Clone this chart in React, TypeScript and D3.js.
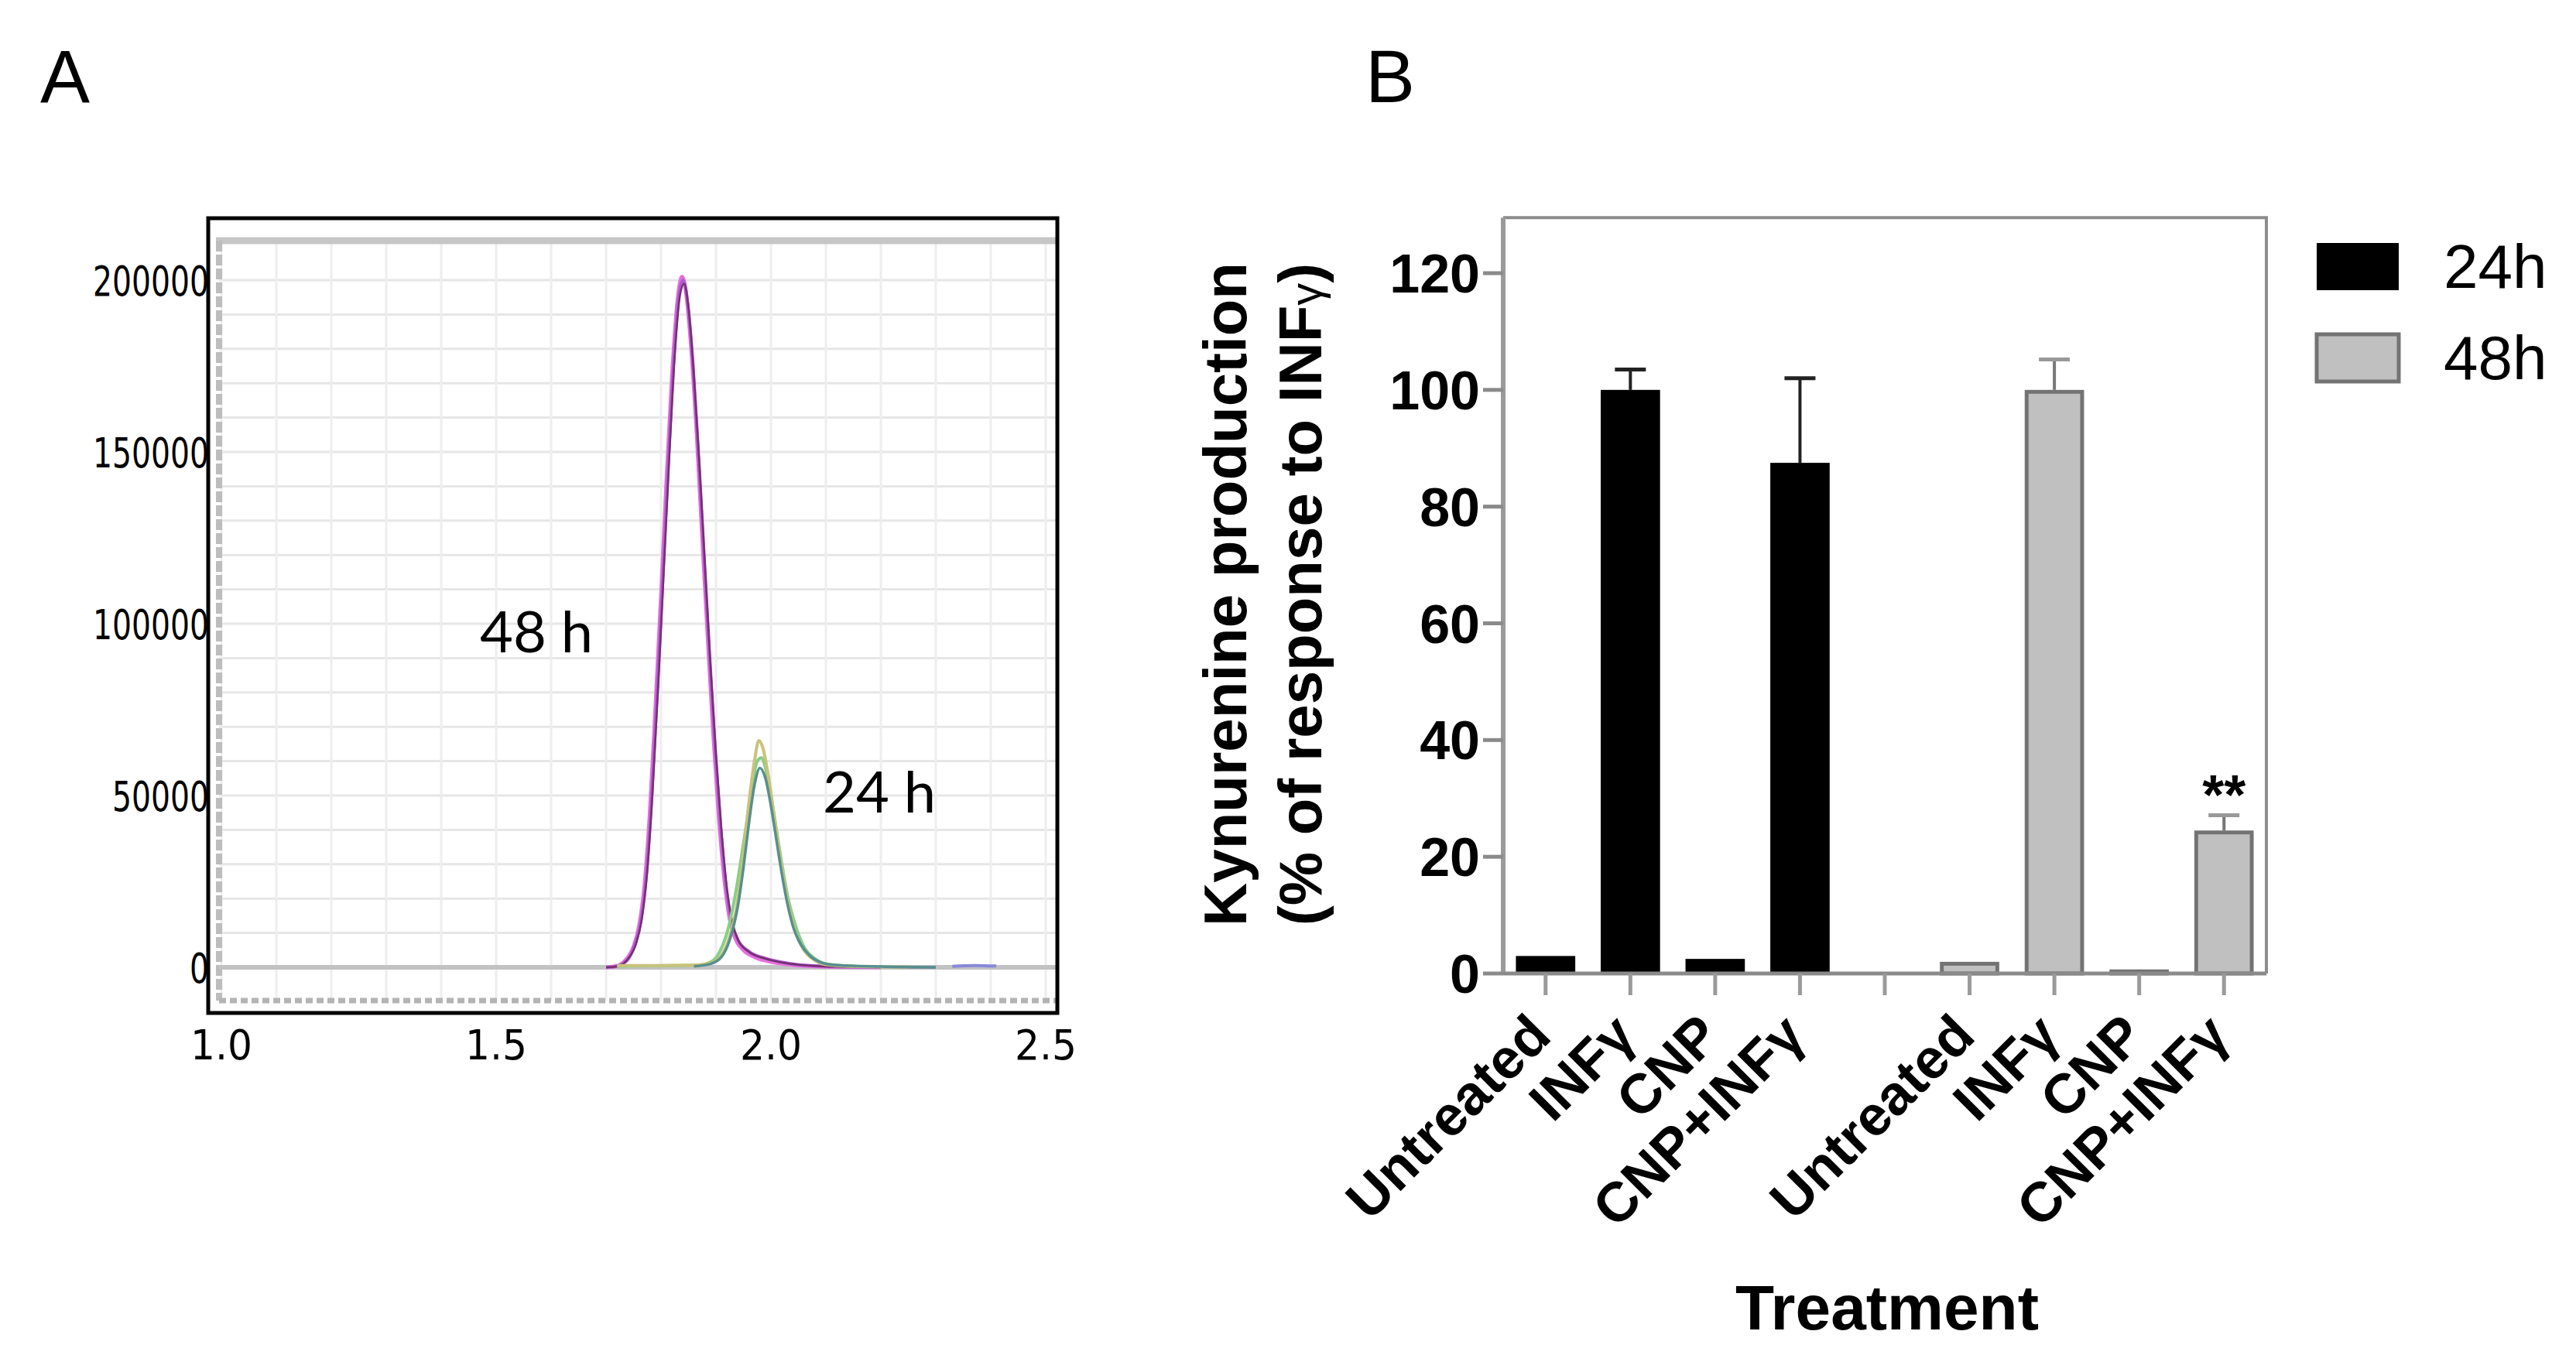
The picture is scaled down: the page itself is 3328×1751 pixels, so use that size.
import React, { useEffect, useRef } from "react";
import * as d3 from "d3";

// ---- panel A : chromatogram traces (retention time, intensity) ----
const trace48Pink: [number, number][] = [
  [1.7, 0], [1.72, 400], [1.735, 2000], [1.75, 6000], [1.76, 12000], [1.77, 24000],
  [1.78, 46000], [1.79, 76000], [1.8, 108000], [1.81, 142000], [1.82, 172000],
  [1.83, 194000], [1.838, 201000], [1.845, 197000], [1.855, 180000], [1.865, 155000],
  [1.875, 125000], [1.885, 96000], [1.895, 68000], [1.905, 44000], [1.915, 26000],
  [1.925, 14000], [1.935, 8500], [1.95, 5000], [1.97, 3000], [2.0, 1600], [2.04, 700],
  [2.08, 300], [2.12, 100], [2.2, 0],
];
const trace48Violet: [number, number][] = [
  [1.7, 0], [1.72, 350], [1.74, 2300], [1.752, 6500], [1.763, 13000], [1.773, 26000],
  [1.783, 49000], [1.793, 80000], [1.803, 112000], [1.813, 146000], [1.823, 176000],
  [1.833, 196000], [1.84, 200000], [1.848, 194000], [1.858, 176000], [1.868, 150000],
  [1.878, 121000], [1.888, 92000], [1.898, 65000], [1.908, 42000], [1.918, 24000],
  [1.928, 13500], [1.94, 8000], [1.96, 4600], [1.99, 2600], [2.03, 1200], [2.07, 500],
  [2.12, 200], [2.2, 0],
];
const trace48Dark: [number, number][] = [
  [1.7, 0], [1.72, 300], [1.74, 2500], [1.755, 7000], [1.765, 14000], [1.775, 28000],
  [1.785, 52000], [1.795, 82000], [1.805, 115000], [1.815, 148000], [1.825, 178000],
  [1.835, 196000], [1.842, 199000], [1.85, 192000], [1.86, 172000], [1.87, 146000],
  [1.88, 117000], [1.89, 88000], [1.9, 62000], [1.91, 40000], [1.92, 23000],
  [1.93, 13000], [1.94, 8000], [1.96, 4500], [1.99, 2500], [2.02, 1400], [2.06, 600],
  [2.1, 250], [2.2, 80], [2.3, 0],
];
const trace24Olive: [number, number][] = [
  [1.72, 500], [1.8, 500], [1.86, 600], [1.89, 1200], [1.91, 3500], [1.925, 9000],
  [1.94, 20000], [1.95, 33000], [1.96, 48000], [1.97, 60000], [1.978, 66000],
  [1.985, 64000], [1.995, 56000], [2.005, 45000], [2.015, 34000], [2.025, 24000],
  [2.035, 16000], [2.045, 10000], [2.06, 5000], [2.08, 2000], [2.1, 800], [2.15, 300],
  [2.25, 100],
];
const trace24Green: [number, number][] = [
  [1.72, 300], [1.76, 400], [1.82, 500], [1.87, 700], [1.89, 1500], [1.905, 4000],
  [1.92, 10000], [1.935, 21000], [1.95, 36000], [1.965, 52000], [1.975, 60000],
  [1.983, 61000], [1.99, 58000], [2.0, 50000], [2.01, 40000], [2.02, 30000],
  [2.03, 21000], [2.045, 12000], [2.06, 6000], [2.08, 2500], [2.1, 1000], [2.15, 300],
];
const trace24Teal: [number, number][] = [
  [1.86, 300], [1.89, 1000], [1.91, 3000], [1.925, 8000], [1.94, 18000], [1.95, 29000],
  [1.96, 42000], [1.97, 53000], [1.98, 58000], [1.99, 55000], [2.0, 47000], [2.01, 37000],
  [2.02, 27000], [2.03, 18500], [2.04, 12000], [2.055, 6500], [2.07, 3500], [2.09, 1500],
  [2.12, 600], [2.2, 200], [2.3, 0],
];
const traceBlue: [number, number][] = [
  [2.33, 300], [2.37, 500], [2.41, 400],
];

// drawn in this order (last one on top)
const tracesA = [
  { name: "48h-pink", data: trace48Pink, color: "#e470dc", width: 5 },
  { name: "48h-violet", data: trace48Violet, color: "#b05ad4", width: 4 },
  { name: "48h-dark", data: trace48Dark, color: "#74306f", width: 2.5 },
  { name: "24h-green", data: trace24Green, color: "#86d086", width: 4 },
  { name: "24h-olive", data: trace24Olive, color: "#c9c27a", width: 4 },
  { name: "24h-teal", data: trace24Teal, color: "#578f8f", width: 3.5 },
  { name: "blue", data: traceBlue, color: "#8888d8", width: 4 },
];

// ---- panel B : kynurenine production bars ----
const treatments = ["Untreated", "INFγ", "CNP", "CNP+INFγ"];
const mean24h = [3, 100, 2.5, 87.5];
const err24h = [0, 3.5, 0, 14.5];
const mean48h = [2, 100, 0.7, 24.5];
const err48h = [0, 5.2, 0, 2.6];
const yTicksB = [0, 20, 40, 60, 80, 100, 120];

const W = 3328;
const H = 1751;
const ARIAL = "'Liberation Sans', Arial, sans-serif";

const App = () => {
  const ref = useRef<SVGSVGElement>(null);

  useEffect(() => {
    const svg = d3.select(ref.current);
    svg.selectAll("*").remove();
    drawPanelA(svg);
    drawPanelB(svg);
  }, []);

  function drawPanelA(svg: any) {
    const g = svg.append("g");
    const x = d3.scaleLinear().domain([1.0, 2.5]).range([286, 1351]);
    const y = d3.scaleLinear().domain([0, 200000]).range([1250, 362]);
    const plot = { left: 283, right: 1366, top: 311, bottom: 1293 };

    g.append("text")
      .text("A")
      .attr("x", 52)
      .attr("y", 132)
      .attr("font-family", ARIAL)
      .attr("font-size", 96);

    // grid
    g.append("g")
      .selectAll("line")
      .data(y.ticks(20))
      .join("line")
      .attr("x1", plot.left)
      .attr("x2", plot.right)
      .attr("y1", (d: number) => y(d))
      .attr("y2", (d: number) => y(d))
      .attr("stroke", "#e6e6e6")
      .attr("stroke-width", 3);
    g.append("g")
      .selectAll("line")
      .data(x.ticks(15))
      .join("line")
      .attr("x1", (d: number) => x(d))
      .attr("x2", (d: number) => x(d))
      .attr("y1", plot.top)
      .attr("y2", plot.bottom)
      .attr("stroke", "#eeeeee")
      .attr("stroke-width", 3);

    // grey plot borders of the instrument software
    g.append("line")
      .attr("x1", plot.left - 4).attr("x2", plot.right)
      .attr("y1", plot.top).attr("y2", plot.top)
      .attr("stroke", "#c6c6c6").attr("stroke-width", 9);
    g.append("line")
      .attr("x1", plot.left).attr("x2", plot.left)
      .attr("y1", plot.top).attr("y2", plot.bottom)
      .attr("stroke", "#bdbdbd").attr("stroke-width", 8)
      .attr("stroke-dasharray", "14 4");
    g.append("line")
      .attr("x1", plot.left).attr("x2", plot.right)
      .attr("y1", plot.bottom).attr("y2", plot.bottom)
      .attr("stroke", "#b4b4b4").attr("stroke-width", 7)
      .attr("stroke-dasharray", "9 5");
    g.append("line")
      .attr("x1", plot.left).attr("x2", plot.right)
      .attr("y1", y(0)).attr("y2", y(0))
      .attr("stroke", "#c2c2c2").attr("stroke-width", 6);

    // traces
    const line = d3
      .line<[number, number]>()
      .x((d) => x(d[0]))
      .y((d) => y(d[1]))
      .curve(d3.curveMonotoneX);
    g.append("g")
      .selectAll("path")
      .data(tracesA)
      .join("path")
      .attr("d", (d: any) => line(d.data))
      .attr("fill", "none")
      .attr("stroke", (d: any) => d.color)
      .attr("stroke-width", (d: any) => d.width)
      .attr("stroke-linejoin", "round");

    // frame
    g.append("rect")
      .attr("x", 269)
      .attr("y", 282)
      .attr("width", 1097)
      .attr("height", 1027)
      .attr("fill", "none")
      .attr("stroke", "#000")
      .attr("stroke-width", 5);

    // tick labels
    g.append("g")
      .selectAll("text")
      .data(y.ticks(5))
      .join("text")
      .text((d: number) => String(d))
      .attr("x", 270)
      .attr("y", (d: number) => y(d) + 20)
      .attr("text-anchor", "end")
      .attr("font-family", "'DejaVu Sans', sans-serif")
      .attr("font-size", 54)
      .attr("textLength", (d: number) => String(d).length * 25)
      .attr("lengthAdjust", "spacingAndGlyphs");
    g.append("g")
      .selectAll("text")
      .data(x.ticks(3))
      .join("text")
      .text((d: number) => d3.format(".1f")(d))
      .attr("x", (d: number) => x(d))
      .attr("y", 1369)
      .attr("text-anchor", "middle")
      .attr("font-family", "'DejaVu Sans', sans-serif")
      .attr("font-size", 54)
      .attr("textLength", 80)
      .attr("lengthAdjust", "spacingAndGlyphs");

    // peak annotations
    g.append("text")
      .text("48 h")
      .attr("x", 620)
      .attr("y", 843)
      .attr("font-family", "Lato, 'Open Sans', sans-serif")
      .attr("font-size", 74);
    g.append("text")
      .text("24 h")
      .attr("x", 1063)
      .attr("y", 1050)
      .attr("font-family", "Lato, 'Open Sans', sans-serif")
      .attr("font-size", 74);
  }

  function drawPanelB(svg: any) {
    const g = svg.append("g").attr("font-family", ARIAL);
    const left = 1942;
    const right = 2928;
    const slots = [
      ...treatments.map((t, i) => ({ key: "24-" + i, label: t, mean: mean24h[i], err: err24h[i], group: "24h" })),
      { key: "gap", label: "", mean: null, err: 0, group: "" },
      ...treatments.map((t, i) => ({ key: "48-" + i, label: t, mean: mean48h[i], err: err48h[i], group: "48h" })),
    ];
    const x = d3
      .scaleBand()
      .domain(slots.map((d) => d.key))
      .range([left, right])
      .paddingInner(0.3)
      .paddingOuter(0.15);
    const y = d3.scaleLinear().domain([0, 120]).range([1258, 353]);
    const cx = (k: string) => (x(k) as number) + x.bandwidth() / 2;

    g.append("text")
      .text("B")
      .attr("x", 1764)
      .attr("y", 132)
      .attr("font-size", 96);

    // frame (top, right)
    g.append("path")
      .attr("d", `M${left},${y(129.5)}H${right}V${y(0)}`)
      .attr("fill", "none")
      .attr("stroke", "#8c8c8c")
      .attr("stroke-width", 4);

    // bars
    const bars = slots.filter((d) => d.mean !== null);
    g.append("g")
      .selectAll("rect")
      .data(bars)
      .join("rect")
      .attr("x", (d: any) => (x(d.key) as number) + (d.group === "48h" ? 2.5 : 0))
      .attr("width", (d: any) => x.bandwidth() - (d.group === "48h" ? 5 : 0))
      .attr("y", (d: any) => y(d.mean) + (d.group === "48h" ? 2.5 : 0))
      .attr("height", (d: any) => Math.max(0, y(0) - y(d.mean) - (d.group === "48h" ? 2.5 : 0)))
      .attr("fill", (d: any) => (d.group === "24h" ? "#000" : "#c0c0c0"))
      .attr("stroke", (d: any) => (d.group === "24h" ? "none" : "#737373"))
      .attr("stroke-width", 5);

    // error bars
    const errs = bars.filter((d) => d.err > 0);
    const eg = g.append("g");
    eg.selectAll("line.stem")
      .data(errs)
      .join("line")
      .attr("class", "stem")
      .attr("x1", (d: any) => cx(d.key))
      .attr("x2", (d: any) => cx(d.key))
      .attr("y1", (d: any) => y(d.mean))
      .attr("y2", (d: any) => y(d.mean + d.err))
      .attr("stroke", (d: any) => (d.group === "24h" ? "#222" : "#777"))
      .attr("stroke-width", 4);
    eg.selectAll("line.cap")
      .data(errs)
      .join("line")
      .attr("class", "cap")
      .attr("x1", (d: any) => cx(d.key) - 20)
      .attr("x2", (d: any) => cx(d.key) + 20)
      .attr("y1", (d: any) => y(d.mean + d.err))
      .attr("y2", (d: any) => y(d.mean + d.err))
      .attr("stroke", (d: any) => (d.group === "24h" ? "#222" : "#999"))
      .attr("stroke-width", 5);

    // significance
    const last = bars[bars.length - 1];
    g.append("text")
      .text("**")
      .attr("x", cx(last.key))
      .attr("y", y(last.mean + last.err) - 2)
      .attr("text-anchor", "middle")
      .attr("font-weight", "bold")
      .attr("font-size", 72);

    // y axis
    g.append("line")
      .attr("x1", left).attr("x2", left)
      .attr("y1", y(129.5)).attr("y2", y(0))
      .attr("stroke", "#9a9a9a").attr("stroke-width", 6);
    const yt = g.append("g").selectAll("g").data(yTicksB).join("g");
    yt.append("line")
      .attr("x1", left - 26).attr("x2", left)
      .attr("y1", (d: number) => y(d)).attr("y2", (d: number) => y(d))
      .attr("stroke", "#8a8a8a").attr("stroke-width", 5);
    yt.append("text")
      .text((d: number) => d)
      .attr("x", 1912)
      .attr("y", (d: number) => y(d) + 25)
      .attr("text-anchor", "end")
      .attr("font-weight", "bold")
      .attr("font-size", 70);

    // x axis
    g.append("line")
      .attr("x1", left).attr("x2", right)
      .attr("y1", y(0)).attr("y2", y(0))
      .attr("stroke", "#8a8a8a").attr("stroke-width", 5);
    g.append("g")
      .selectAll("line")
      .data(slots)
      .join("line")
      .attr("x1", (d: any) => cx(d.key))
      .attr("x2", (d: any) => cx(d.key))
      .attr("y1", y(0))
      .attr("y2", y(0) + 28)
      .attr("stroke", "#9a9a9a")
      .attr("stroke-width", 5);
    g.append("g")
      .selectAll("text")
      .data(slots.filter((d) => d.label))
      .join("text")
      .text((d: any) => d.label)
      .attr("transform", (d: any) => `translate(${cx(d.key) + 10},${y(0) + 84}) rotate(-45)`)
      .attr("text-anchor", "end")
      .attr("font-weight", "bold")
      .attr("font-size", 72);

    // axis titles
    g.append("text")
      .text("Treatment")
      .attr("x", 2438)
      .attr("y", 1718)
      .attr("text-anchor", "middle")
      .attr("font-weight", "bold")
      .attr("font-size", 82);
    const yTitle = g
      .append("text")
      .attr("transform", "translate(1610,768) rotate(-90)")
      .attr("text-anchor", "middle")
      .attr("font-weight", "bold")
      .attr("font-size", 78);
    yTitle.append("tspan").attr("x", 0).attr("y", 0).text("Kynurenine production");
    const l2 = yTitle.append("tspan").attr("x", 0).attr("y", 97);
    l2.append("tspan").text("(% of response to INF");
    l2.append("tspan").attr("font-weight", "normal").attr("font-size", 58).text("γ");
    l2.append("tspan").text(")");

    // legend
    const legend = [
      { label: "24h", fill: "#000", stroke: "none" },
      { label: "48h", fill: "#c0c0c0", stroke: "#737373" },
    ];
    const lg = g.append("g").selectAll("g").data(legend).join("g")
      .attr("transform", (_d: any, i: number) => `translate(2993,${314 + i * 118})`);
    lg.append("rect")
      .attr("width", 106)
      .attr("height", 61)
      .attr("fill", (d: any) => d.fill)
      .attr("stroke", (d: any) => d.stroke)
      .attr("stroke-width", 5);
    lg.append("text")
      .text((d: any) => d.label)
      .attr("x", 164)
      .attr("y", 58)
      .attr("font-size", 80);
  }

  return (
    <svg
      ref={ref}
      width={W}
      height={H}
      viewBox={`0 0 ${W} ${H}`}
      style={{ position: "absolute", left: 0, top: 0, background: "#fff" }}
    />
  );
};

export default App;
